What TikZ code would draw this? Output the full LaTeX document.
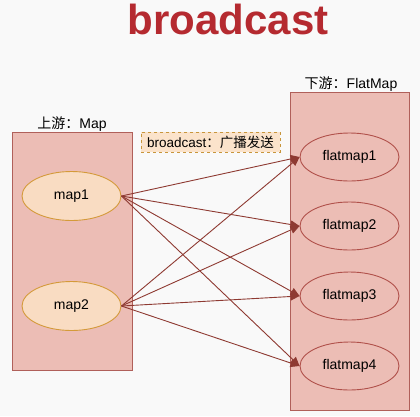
\documentclass[tikz,border=0pt]{standalone}
\usepackage{fontspec}
\setmainfont{Liberation Sans}
\newfontfamily\cjk{Noto Sans CJK SC}
\usetikzlibrary{arrows.meta,shapes.geometric}
\definecolor{bg}{HTML}{F9F9F9}
\definecolor{titlered}{HTML}{B52A30}
\definecolor{boxfill}{HTML}{ECBDB5}
\definecolor{boxline}{HTML}{B0605A}
\definecolor{mapfill}{HTML}{F9DCC2}
\definecolor{mapline}{HTML}{D49A3A}
\definecolor{fmline}{HTML}{B0504A}
\definecolor{arrowc}{HTML}{8E3A32}
\definecolor{notefill}{HTML}{FBE3CB}
\definecolor{noteline}{HTML}{C8963C}
\tikzset{
  groupbox/.style={draw=boxline, fill=boxfill, line width=0.9pt},
  mapnode/.style={ellipse, draw=mapline, fill=mapfill, line width=0.9pt, minimum width=99pt, minimum height=49pt, inner sep=0pt, font=\fontsize{14}{16}\selectfont},
  fmnode/.style={ellipse, draw=fmline, fill=boxfill, line width=0.9pt, minimum width=99pt, minimum height=48pt, inner sep=0pt, font=\fontsize{14}{16}\selectfont},
  grouplabel/.style={font=\fontsize{14}{16}\selectfont, inner sep=0pt},
  conn/.style={draw=arrowc, line width=0.9pt, -{Triangle[length=9pt,width=8pt]}},
  note/.style={draw=noteline, fill=notefill, dashed, line width=0.8pt, minimum width=139pt, minimum height=20pt, inner sep=0pt, font=\fontsize{13.5}{15}\selectfont}
}
\begin{document}
\begin{tikzpicture}[x=1pt,y=-1pt]
\fill[bg] (0,0) rectangle (420,416);
\useasboundingbox (0,0) rectangle (420,416);
\node[text=titlered, font=\fontsize{42}{44}\selectfont\bfseries, anchor=base] (title) at (228,34) {broadcast};
% groups
\draw[groupbox] (12,132) rectangle (132,370);
\node[grouplabel, anchor=base] (upl) at (72,128) {{\cjk 上游：}Map};
\draw[groupbox] (290,92) rectangle (409,410);
\node[grouplabel, anchor=base] (downl) at (351,88) {{\cjk 下游：}FlatMap};
% note
\node[note] (bc) at (210.5,142) {broadcast{\cjk ：广播发送}};
% nodes
\node[mapnode] (m1) at (71.5,196) {map1};
\node[mapnode] (m2) at (71.5,306) {map2};
\node[fmnode] (f1) at (349.5,157) {flatmap1};
\node[fmnode] (f2) at (349.5,226) {flatmap2};
\node[fmnode] (f3) at (349.5,296) {flatmap3};
\node[fmnode] (f4) at (349.5,366) {flatmap4};
% connectors
\foreach \s in {m1,m2}{
  \foreach \t in {f1,f2,f3,f4}{
    \draw[conn] (\s.east) -- (\t.west);
  }
}
\end{tikzpicture}
\end{document}
